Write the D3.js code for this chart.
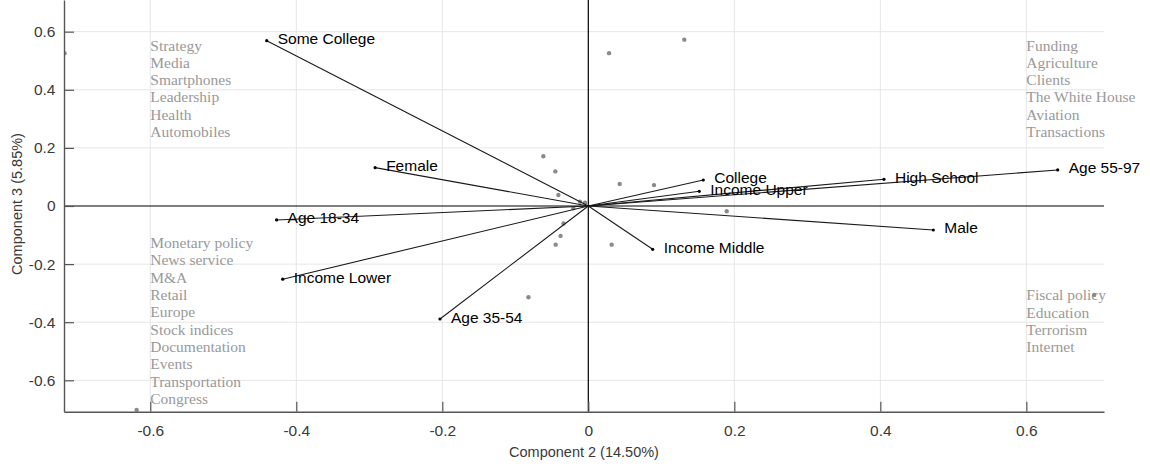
<!DOCTYPE html>
<html>
<head>
<meta charset="utf-8">
<script src="https://cdn.jsdelivr.net/npm/d3@7"></script>
<style>
  html, body { margin: 0; padding: 0; background: #fff; }
  svg { display: block; }
</style>
</head>
<body>
<svg id="chart" width="1150" height="466"></svg>
<script>
// Variable loadings (Component 2, Component 3)
const varNames = ["Some College", "Female", "Age 18-34", "Income Lower", "Age 35-54",
                  "Income Middle", "College", "Income Upper", "High School", "Age 55-97", "Male"];
const varX = [-0.4405, -0.292, -0.427, -0.4186, -0.2032, 0.0882, 0.1575, 0.152, 0.405, 0.643, 0.4726];
const varY = [0.569, 0.132, -0.048, -0.252, -0.389, -0.149, 0.0895, 0.0506, 0.0918, 0.124, -0.0826];

// Observation scores
const obsX = [-0.7175, 0.0284, 0.1315, -0.0616, -0.0452, -0.041, 0.043, 0.09, 0.1896, -0.0114,
              -0.0045, -0.0205, 0.0274, -0.034, -0.038, -0.0447, 0.032, -0.082, 0.693, -0.6187];
const obsY = [0.526, 0.526, 0.5725, 0.171, 0.119, 0.038, 0.0757, 0.072, -0.018, 0.015,
              0.011, -0.008, 0.0034, -0.06, -0.103, -0.133, -0.133, -0.314, -0.306, -0.702];

// Topic words listed in each quadrant
const topicsTopLeft = ["Strategy", "Media", "Smartphones", "Leadership", "Health", "Automobiles"];
const topicsTopRight = ["Funding", "Agriculture", "Clients", "The White House", "Aviation", "Transactions"];
const topicsBottomLeft = ["Monetary policy", "News service", "M&A", "Retail", "Europe",
                          "Stock indices", "Documentation", "Events", "Transportation", "Congress"];
const topicsBottomRight = ["Fiscal policy", "Education", "Terrorism", "Internet"];

const xTicks = [-0.6, -0.4, -0.2, 0, 0.2, 0.4, 0.6];
const yTicks = [-0.6, -0.4, -0.2, 0, 0.2, 0.4, 0.6];
const xLabel = "Component 2 (14.50%)";
const yLabel = "Component 3 (5.85%)";

const svg = d3.select("#chart");
const plotL = 64, plotR = 1104, plotT = 0, plotB = 411.7;

const x = d3.scaleLinear().domain([-0.7182, 0.7064]).range([plotL, plotR]);
const y = d3.scaleLinear().domain([-0.708, 0.709]).range([plotB, plotT]);

const fmt = d => String(+d.toFixed(1));
const sans = "'Liberation Sans', Arial, Helvetica, sans-serif";
const serif = "'Liberation Serif', 'Times New Roman', serif";

svg.append("defs").append("clipPath").attr("id", "plot")
  .append("rect").attr("x", plotL).attr("y", plotT)
  .attr("width", plotR - plotL).attr("height", plotB - plotT);

// Grid
const grid = svg.append("g").attr("stroke", "#e6e6e6").attr("stroke-width", 1);
grid.selectAll("line.vx").data(xTicks.filter(t => t !== 0)).join("line")
  .attr("x1", d => x(d)).attr("x2", d => x(d)).attr("y1", plotT).attr("y2", plotB);
grid.selectAll("line.hy").data(yTicks.filter(t => t !== 0)).join("line")
  .attr("y1", d => y(d)).attr("y2", d => y(d)).attr("x1", plotL).attr("x2", plotR);

// Topic word blocks
const lineStep = 17.3;
function topicBlock(words, x0, y0) {
  svg.append("g").selectAll("text").data(words).join("text")
    .attr("x", x(x0))
    .attr("y", (d, i) => y(y0) + i * lineStep)
    .attr("dominant-baseline", "central")
    .attr("font-family", serif).attr("font-size", 15.5)
    .attr("fill", "#999")
    .text(d => d);
}
topicBlock(topicsTopLeft, -0.6, 0.554);
topicBlock(topicsTopRight, 0.6, 0.554);
topicBlock(topicsBottomLeft, -0.6, -0.126);
topicBlock(topicsBottomRight, 0.6, -0.306);

// Zero lines
svg.append("line").attr("x1", plotL).attr("x2", plotR).attr("y1", y(0)).attr("y2", y(0))
  .attr("stroke", "#000").attr("stroke-width", 1.2);
svg.append("line").attr("x1", x(0)).attr("x2", x(0)).attr("y1", plotT).attr("y2", plotB)
  .attr("stroke", "#000").attr("stroke-width", 1.2);

const plot = svg.append("g").attr("clip-path", "url(#plot)");

// Observations
plot.append("g").selectAll("circle").data(obsX).join("circle")
  .attr("cx", d => x(d)).attr("cy", (d, i) => y(obsY[i]))
  .attr("r", 2.2).attr("fill", "#8a8a8a");

// Loading vectors
const vars = varNames.map((n, i) => ({ name: n, vx: varX[i], vy: varY[i] }));
plot.append("g").selectAll("line").data(vars).join("line")
  .attr("x1", x(0)).attr("y1", y(0))
  .attr("x2", d => x(d.vx)).attr("y2", d => y(d.vy))
  .attr("stroke", "#1a1a1a").attr("stroke-width", 1.1);
plot.append("g").selectAll("circle").data(vars).join("circle")
  .attr("cx", d => x(d.vx)).attr("cy", d => y(d.vy))
  .attr("r", 1.6).attr("fill", "#000");
svg.append("g").selectAll("text").data(vars).join("text")
  .attr("x", d => x(d.vx) + 11).attr("y", d => y(d.vy) - 2)
  .attr("dominant-baseline", "central")
  .attr("font-family", sans).attr("font-size", 15.5).attr("fill", "#000")
  .text(d => d.name);

// Axes
const xAxis = d3.axisBottom(x).tickValues(xTicks).tickFormat(fmt)
  .tickSizeInner(-10).tickSizeOuter(0).tickPadding(13);
const yAxis = d3.axisLeft(y).tickValues(yTicks).tickFormat(fmt)
  .tickSizeInner(-10).tickSizeOuter(0).tickPadding(8.5);

const gx = svg.append("g").attr("transform", `translate(0,${plotB})`).call(xAxis);
const gy = svg.append("g").attr("transform", `translate(${plotL},0)`).call(yAxis);
[gx, gy].forEach(g => {
  g.select(".domain").attr("stroke", "#555").attr("stroke-width", 1.4);
  g.selectAll(".tick line").attr("stroke", "#555").attr("stroke-width", 1.2);
  g.selectAll(".tick text").attr("fill", "#3a3a3a")
    .attr("font-family", sans).attr("font-size", 15.5);
});

// Axis titles
svg.append("text").attr("x", (plotL + plotR) / 2).attr("y", 451.7)
  .attr("text-anchor", "middle").attr("dominant-baseline", "central")
  .attr("font-family", sans).attr("font-size", 14.5).attr("fill", "#3a3a3a")
  .text(xLabel);
svg.append("text").attr("transform", `translate(17,204) rotate(-90)`)
  .attr("text-anchor", "middle").attr("dominant-baseline", "central")
  .attr("font-family", sans).attr("font-size", 14.5).attr("fill", "#3a3a3a")
  .text(yLabel);
</script>
</body>
</html>
